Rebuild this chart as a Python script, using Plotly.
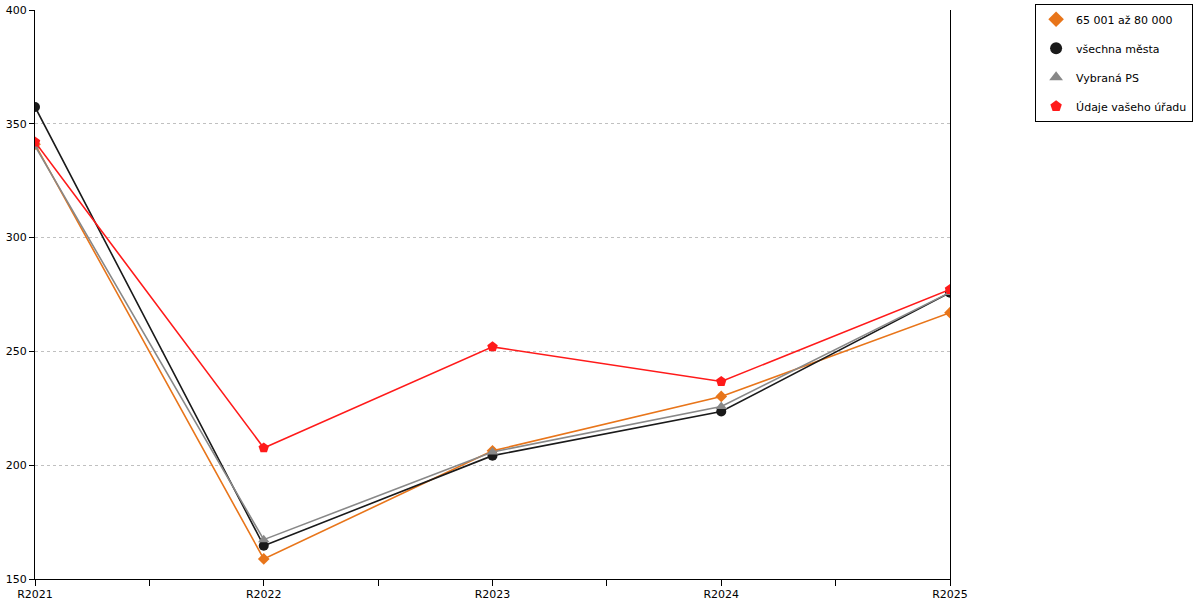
import plotly.graph_objects as go

years = ["R2021", "R2022", "R2023", "R2024", "R2025"]
pos = list(range(len(years)))

skupina = [341.0, 158.8, 206.3, 230.2, 267.0]
vsechna = [357.4, 164.6, 204.2, 223.6, 275.8]
vybrana = [340.3, 167.3, 205.8, 225.8, 275.9]
urad = [342.0, 207.6, 252.0, 236.8, 277.2]

series = [
    ("65 001 až 80 000", skupina, "#e8751a", "diamond", 9),
    ("všechna města", vsechna, "#1a1a1a", "circle", 10),
    ("Vybraná PS", vybrana, "#888888", "triangle-up", 10),
    ("Údaje vašeho úřadu", urad, "#ff1a1a", "pentagon", 11),
]

fig = go.Figure()
for i, (name, vals, color, symbol, size) in enumerate(series):
    fig.add_trace(go.Scatter(
        x=pos, y=vals, name=name, mode="lines+markers",
        showlegend=False,
        line=dict(color=color, width=1.6),
        marker=dict(symbol=symbol, size=size, color=color)))
    # legend entry shows only the marker, like the original
    fig.add_trace(go.Scatter(
        x=[None], y=[None], name=name, mode="markers",
        legendgroup=str(i),
        marker=dict(symbol=symbol, size=size, color=color)))

fig.update_layout(
    width=1200, height=600,
    margin=dict(l=35, r=250, t=10, b=21, autoexpand=False),
    plot_bgcolor="white", paper_bgcolor="white",
    font=dict(family="DejaVu Sans", size=11, color="black"),
    showlegend=True,
    legend=dict(x=1.093, y=1.011, xanchor="left", yanchor="top",
                bordercolor="black", borderwidth=1,
                font=dict(size=11), traceorder="grouped",
                tracegroupgap=10, itemsizing="constant"),
)
fig.update_xaxes(
    range=[0, len(years) - 1], tickvals=pos, ticktext=years,
    automargin=False, ticklabelstandoff=-1,
    showgrid=False, zeroline=False, showline=True, linecolor="black",
    ticks="outside", ticklen=6, tickcolor="black",
    minor=dict(dtick=0.5, ticks="outside", ticklen=6, tickcolor="black",
               showgrid=False))
fig.update_yaxes(
    range=[150, 400], dtick=50, showgrid=True, automargin=False,
    gridcolor="#c0c0c0", griddash="dot", zeroline=False,
    showline=True, mirror=True, linecolor="black", ticks="outside",
    ticklen=5, tickcolor="black")

# drop the default page margin so the figure fills the window
fig.write_html("out.html", config={"displayModeBar": False},
               post_script="document.body.style.margin='0';")
